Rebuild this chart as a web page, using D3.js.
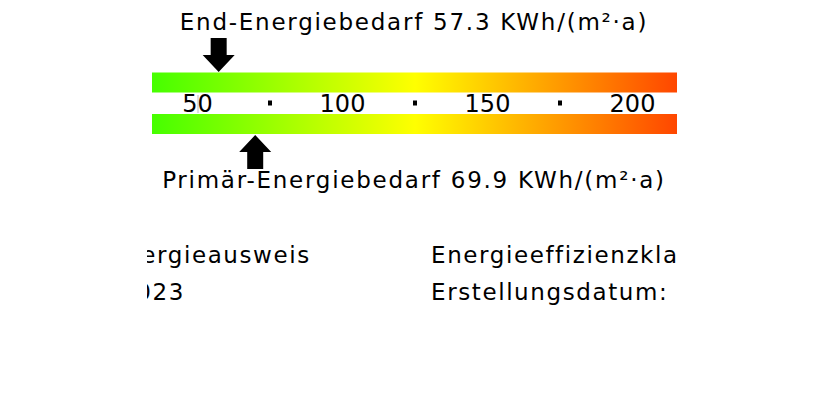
<!DOCTYPE html>
<html>
<head>
<meta charset="utf-8">
<script src="https://cdn.jsdelivr.net/npm/d3@7"></script>
<style>
	body { margin: 0; background: #fff; }
	svg { display: block; }
</style>
</head>
<body>
<div class="energy-chart"></div>
<script>
// Scale values and readings
var scaleRange = [0, 250],
	colorStops = [0, 125, 250],
	stopColors = ['#00ff00', '#ffff00', '#ff0000'],
	labelTicks = [50, 100, 150, 200],
	dotTicks = [75, 125, 175];

var endEnergy = 57.3,
	primaryEnergy = 69.9,
	unit = 'KWh/(m²·a)';

var infoLeft = ['Energieausweis', '2023'],
	infoLeftShift = [0, 11],
	infoRight = ['Energieeffizienzklasse: B', 'Erstellungsdatum: 01.08.2023'];

var width = 829,
	height = 394,
	fontFamily = 'DejaVu Sans, Verdana, sans-serif',
	letterSpacing = '1.75px',
	viewLeft = 147,
	viewRight = 677;

var x = d3.scaleLinear().domain([50, 200]).range([197.5, 632.5]);
var color = d3.scaleLinear().domain(colorStops).range(stopColors);

var svg = d3.select('.energy-chart').append('svg')
	.attr('width', width)
	.attr('height', height)
	.attr('font-family', fontFamily)
	.attr('fill', '#000');

var defs = svg.append('defs');
var grad = defs.append('linearGradient')
	.attr('id', 'scaleGrad')
	.attr('gradientUnits', 'userSpaceOnUse')
	.attr('x1', x(scaleRange[0]))
	.attr('x2', x(scaleRange[1]))
	.attr('y1', 0)
	.attr('y2', 0);
d3.range(0, 11).forEach(function(i) {
	var v = scaleRange[0] + (scaleRange[1] - scaleRange[0]) * i / 10;
	grad.append('stop')
		.attr('offset', (i * 10) + '%')
		.attr('stop-color', color(v));
});

defs.append('clipPath').attr('id', 'barClip')
	.append('rect')
	.attr('x', 152).attr('y', 0)
	.attr('width', viewRight - 152).attr('height', height);
defs.append('clipPath').attr('id', 'textClip')
	.append('rect')
	.attr('x', viewLeft).attr('y', 0)
	.attr('width', viewRight - viewLeft).attr('height', height);

// The two gradient bars
var bars = svg.append('g').attr('clip-path', 'url(#barClip)');
[72.5, 114].forEach(function(y0) {
	bars.append('rect')
		.attr('x', x(scaleRange[0]))
		.attr('y', y0)
		.attr('width', x(scaleRange[1]) - x(scaleRange[0]))
		.attr('height', 20)
		.attr('fill', 'url(#scaleGrad)');
});

// Separator line at the left label
svg.append('line')
	.attr('x1', x(labelTicks[0]) + 0.5)
	.attr('x2', x(labelTicks[0]) + 0.5)
	.attr('y1', 95)
	.attr('y2', 113)
	.attr('stroke', '#bbb')
	.attr('stroke-width', 1);

// Tick labels and dots between the bars
svg.append('g').selectAll('text')
	.data(labelTicks)
	.enter().append('text')
	.attr('x', function(d) { return x(d); })
	.attr('y', 112)
	.attr('text-anchor', 'middle')
	.attr('font-size', '24px')
	.text(function(d) { return d; });

svg.append('g').selectAll('rect')
	.data(dotTicks)
	.enter().append('rect')
	.attr('x', function(d) { return x(d) - 2; })
	.attr('y', 100.5)
	.attr('width', 4)
	.attr('height', 5)
	.attr('fill', '#000');

// Arrows
function arrowPath(cx, tipY, dir) {
	// dir = 1: pointing down, dir = -1: pointing up
	var head = 17, shaft = 17, hw = 16, sw = 8;
	var baseY = tipY - dir * head,
		endY = baseY - dir * shaft;
	return 'M' + cx + ',' + tipY +
		'L' + (cx + hw) + ',' + baseY +
		'L' + (cx + sw) + ',' + baseY +
		'L' + (cx + sw) + ',' + endY +
		'L' + (cx - sw) + ',' + endY +
		'L' + (cx - sw) + ',' + baseY +
		'L' + (cx - hw) + ',' + baseY + 'Z';
}
svg.append('path')
	.attr('d', arrowPath(x(endEnergy), 72, 1))
	.attr('fill', '#000');
svg.append('path')
	.attr('d', arrowPath(x(primaryEnergy), 135, -1))
	.attr('fill', '#000');

// Titles
svg.append('text')
	.attr('x', 414)
	.attr('y', 30)
	.attr('text-anchor', 'middle')
	.attr('font-size', '23px')
	.attr('letter-spacing', letterSpacing)
	.text('End-Energiebedarf ' + endEnergy + ' ' + unit);
svg.append('text')
	.attr('x', 414)
	.attr('y', 188)
	.attr('text-anchor', 'middle')
	.attr('font-size', '23px')
	.attr('letter-spacing', letterSpacing)
	.text('Primär-Energiebedarf ' + primaryEnergy + ' ' + unit);

// Info block, cut by the visible window
var info = svg.append('g')
	.attr('clip-path', 'url(#textClip)')
	.attr('font-size', '23px')
	.attr('letter-spacing', '1.6px');
info.selectAll('text.left')
	.data(infoLeft)
	.enter().append('text')
	.attr('class', 'left')
	.attr('x', function(d, i) { return 109 + infoLeftShift[i]; })
	.attr('y', function(d, i) { return 263 + i * 37; })
	.text(function(d) { return d; });
info.selectAll('text.right')
	.data(infoRight)
	.enter().append('text')
	.attr('class', 'right')
	.attr('x', 431)
	.attr('y', function(d, i) { return 263 + i * 37; })
	.text(function(d) { return d; });
</script>
</body>
</html>
